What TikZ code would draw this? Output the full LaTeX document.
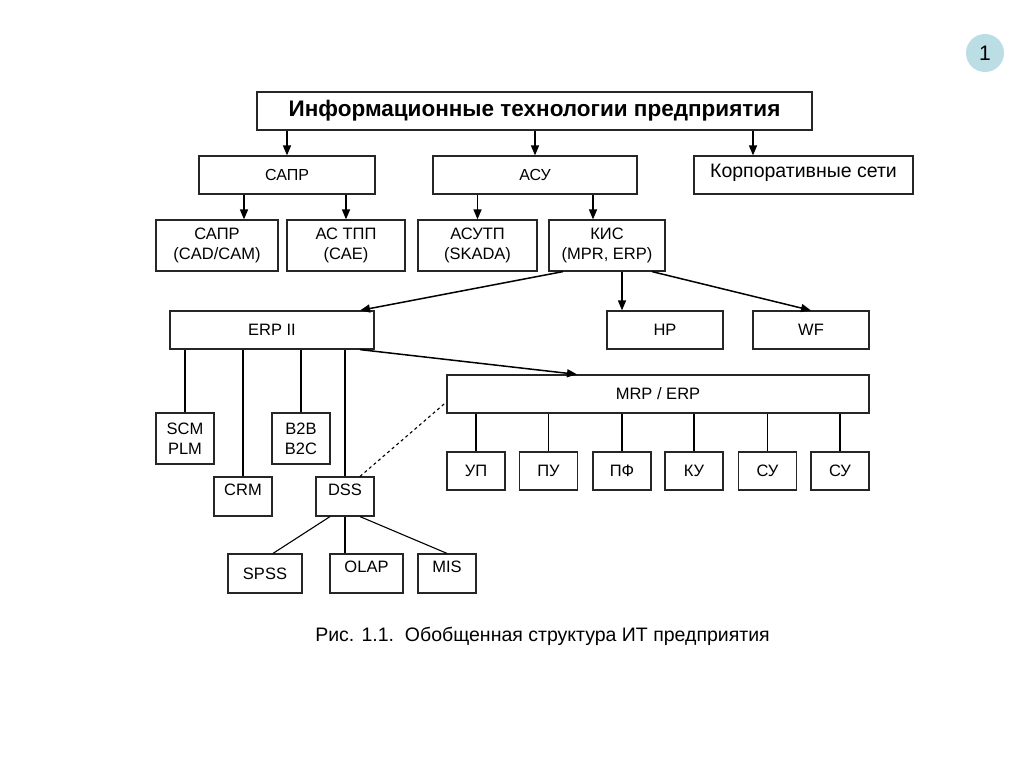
\documentclass[tikz,border=0pt]{standalone}
\usepackage{fontspec}
\setmainfont{Liberation Sans}
\usetikzlibrary{arrows.meta}
\definecolor{numfill}{RGB}{187,222,228}
\begin{document}
\begin{tikzpicture}[x=1pt,y=-1pt,
  box/.style={draw=black!85, line width=1.2pt, inner sep=0pt, align=center, font=\fontsize{16.5}{20}\selectfont},
  hi/.style={text depth=14pt},
  arr/.style={line width=1.5pt, -{Triangle[length=10pt,width=8pt]}},
  ln/.style={line width=1.1pt}]
\fill[white] (0,0) rectangle (1024,767);
\useasboundingbox (0,0) rectangle (1024,767);
\node[circle, fill=numfill, minimum size=38, inner sep=0pt, font=\fontsize{21}{21}\selectfont] (num) at (985,53){1};
\node[box, minimum width=555, minimum height=38, font=\fontsize{22.5}{24}\selectfont\bfseries] (top) at (534.5,111){Информационные технологии предприятия};
\node[box, minimum width=176, minimum height=38, font=\fontsize{16}{18}\selectfont] (sapr) at (287,175){САПР};
\node[box, minimum width=204, minimum height=38, font=\fontsize{16}{18}\selectfont] (asu) at (535,175){АСУ};
\node[box, minimum width=219, minimum height=38, font=\fontsize{19.5}{21}\selectfont, text depth=8pt] (korp) at (803.5,175){Корпоративные сети};
\draw[arr] (top.south -| sapr.north) -- (sapr.north);
\draw[arr] (top.south -| asu.north) -- (asu.north);
\draw[arr] ([xshift=-50.5]korp.north |- top.south) -- ([xshift=-50.5]korp.north);
\node[box, minimum width=122, minimum height=51] (cad) at (217,245.5){САПР\\(CAD/CAM)};
\node[box, minimum width=118, minimum height=51] (astpp) at (346,245.5){АС ТПП\\(CAE)};
\node[box, minimum width=119, minimum height=51] (asutp) at (477.5,245.5){АСУТП\\(SKADA)};
\node[box, minimum width=116, minimum height=51] (kis) at (607,245.5){КИС\\(MPR, ERP)};
\draw[arr] ([xshift=27]cad.north |- sapr.south) -- ([xshift=27]cad.north);
\draw[arr] (sapr.south -| astpp.north) -- (astpp.north);
\draw[arr] (asu.south -| asutp.north) -- (asutp.north);
\draw[arr] ([xshift=-14]kis.north |- asu.south) -- ([xshift=-14]kis.north);
\node[box, minimum width=204, minimum height=38] (erp2) at (272,330){ERP II};
\node[box, minimum width=116, minimum height=38] (hp) at (665,330){HP};
\node[box, minimum width=116, minimum height=38] (wf) at (811,330){WF};
\draw[arr] ([xshift=-44]kis.south) -- ([xshift=88]erp2.north);
\draw[arr] ([xshift=15]kis.south) -- ([xshift=15]kis.south |- hp.north);
\draw[arr] ([xshift=45]kis.south) -- (wf.north);
\node[box, minimum width=422, minimum height=38] (mrp) at (658,394){MRP / ERP};
\draw[arr] ([xshift=88]erp2.south) -- ([xshift=-81]mrp.north);
\node[box, minimum width=58, minimum height=51] (scm) at (185,438.5){SCM\\PLM};
\node[box, minimum width=58, minimum height=51] (b2b) at (301,438.5){B2B\\B2C};
\node[box, hi, minimum width=58, minimum height=39] (crm) at (243,496.5){CRM};
\node[box, hi, minimum width=58, minimum height=39] (dss) at (345,496.5){DSS};
\foreach \n in {scm,crm,b2b,dss}
  \draw[ln] (erp2.south -| \n.north) -- (\n.north);
\draw[ln, dashed] ([xshift=15]dss.north) -- ([yshift=-8]mrp.west);
\node[box, minimum width=74, minimum height=39] (spss) at (265,573.5){SPSS};
\node[box, hi, minimum width=73, minimum height=39] (olap) at (366.5,573.5){OLAP};
\node[box, hi, minimum width=58, minimum height=39] (mis) at (447,573.5){MIS};
\draw[ln] ([xshift=-15]dss.south) -- ([xshift=8]spss.north);
\draw[ln] (dss.south) -- (dss.south |- olap.north);
\draw[ln] ([xshift=15]dss.south) -- (mis.north);
\node[box, minimum width=58, minimum height=38] (up) at (476,471){УП};
\node[box, minimum width=58, minimum height=38] (pu) at (548.5,471){ПУ};
\node[box, minimum width=58, minimum height=38] (pf) at (622,471){ПФ};
\node[box, minimum width=58, minimum height=38] (ku) at (694,471){КУ};
\node[box, minimum width=58, minimum height=38] (su) at (767.5,471){СУ};
\node[box, minimum width=58, minimum height=38] (su2) at (840,471){СУ};
\foreach \n in {up,pu,pf,ku,su,su2}
  \draw[ln] (mrp.south -| \n.north) -- (\n.north);
\node[font=\fontsize{19.5}{21}\selectfont] (cap) at (542.5,636){Рис. 1.1.\ \ Обобщенная структура ИТ предприятия};
\end{tikzpicture}
\end{document}
